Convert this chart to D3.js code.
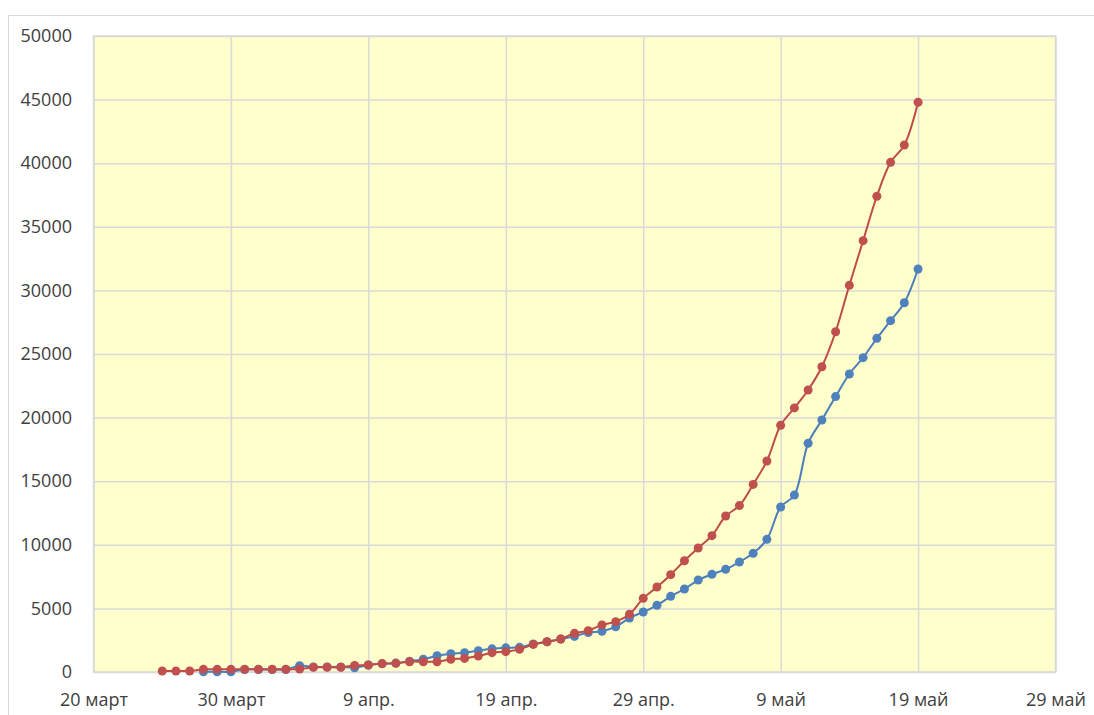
<!DOCTYPE html>
<html><head><meta charset="utf-8">
<script src="https://cdn.jsdelivr.net/npm/d3@7"></script>
<style>
html,body{margin:0;padding:0;background:#fff;}
svg{display:block;font-family:"Open Sans",sans-serif;}
</style></head>
<body><svg id="c" width="1094" height="715"></svg>
<script>
const startDate = "2020-03-25";
const seriesRed = [80,80,80,210,210,210,210,210,210,210,240,370,370,370,520,550,660,680,810,810,810,1000,1070,1250,1520,1600,1780,2170,2380,2590,3040,3250,3700,3960,4540,5790,6680,7650,8750,9750,10720,12260,13080,14750,16590,19390,20760,22170,24000,26750,30400,33910,37400,40070,41430,44790];
const seriesBlue = [null,null,null,20,20,20,200,200,200,200,500,400,400,400,330,550,650,700,850,1000,1280,1440,1520,1680,1820,1900,1940,2200,2380,2590,2800,3100,3200,3560,4245,4720,5240,5950,6525,7230,7680,8070,8650,9330,10430,12970,13915,17980,19810,21650,23430,24710,26230,27620,29030,31680];
const xTickDates = ["2020-03-20","2020-03-30","2020-04-09","2020-04-19","2020-04-29","2020-05-09","2020-05-19","2020-05-29"];
const xTickLabels = ["20 март","30 март","9 апр.","19 апр.","29 апр.","9 май","19 май","29 май"];
const yTicks = [0,5000,10000,15000,20000,25000,30000,35000,40000,45000,50000];

const svg = d3.select("#c");
const L = 93.5, R = 1055.5, T = 36, B = 672;
const parse = d3.utcParse("%Y-%m-%d");
const d0 = parse(startDate);
const dateOf = i => d3.utcDay.offset(d0, i);

const x = d3.scaleUtc().domain([parse(xTickDates[0]), parse(xTickDates[xTickDates.length-1])]).range([L, R]);
const y = d3.scaleLinear().domain([0, 50000]).range([B, T]);

// outer chart border
svg.append("rect").attr("x",8.5).attr("y",15.5).attr("width",1200).attr("height",800)
  .attr("fill","#fff").attr("stroke","#d9d9d9").attr("stroke-width",1);

// plot area
svg.append("rect").attr("x",L).attr("y",T).attr("width",R-L).attr("height",B-T)
  .attr("fill","#ffffcc").attr("stroke","#d9d9d9").attr("stroke-width",1.5);

// gridlines via axes
const gy = svg.append("g").attr("transform",`translate(${L},0)`)
  .call(d3.axisLeft(y).tickValues(yTicks).tickSize(-(R-L)).tickFormat(""));
gy.select(".domain").remove();
gy.selectAll("line").attr("stroke","#d9d9d9").attr("stroke-width",1.5);

const gx = svg.append("g").attr("transform",`translate(0,${B})`)
  .call(d3.axisBottom(x).tickValues(xTickDates.map(parse)).tickSize(-(B-T)).tickFormat(""));
gx.select(".domain").remove();
gx.selectAll("line").attr("stroke","#d9d9d9").attr("stroke-width",1.5);

// axis labels
const yl = svg.append("g").attr("transform",`translate(72,0)`)
  .call(d3.axisLeft(y).tickValues(yTicks).tickSize(0).tickPadding(0).tickFormat(d3.format("d")));
yl.select(".domain").remove();
yl.selectAll("text").attr("font-size",18).attr("fill","#404040").attr("font-family","Open Sans").attr("dy","0.32em");

const xl = svg.append("g").attr("transform",`translate(0,${B})`)
  .call(d3.axisBottom(x).tickValues(xTickDates.map(parse)).tickSize(0).tickPadding(0)
    .tickFormat((d,i)=>xTickLabels[i]));
xl.select(".domain").remove();
xl.selectAll("text").attr("font-size",18).attr("fill","#404040").attr("font-family","Open Sans")
  .attr("y",34).attr("dy",0);

function draw(vals, lineColor, markColor){
  const data = vals.map((v,i)=>({d:dateOf(i), v})).filter(p=>p.v!=null);
  const line = d3.line().x(p=>x(p.d)).y(p=>y(p.v)).curve(d3.curveCatmullRom.alpha(0.5));
  svg.append("path").datum(data).attr("d",line).attr("fill","none")
    .attr("stroke",lineColor).attr("stroke-width",2).attr("stroke-linejoin","round");
  svg.append("g").selectAll("circle").data(data).join("circle")
    .attr("cx",p=>x(p.d)).attr("cy",p=>y(p.v)).attr("r",4.5).attr("fill",markColor);
}
draw(seriesBlue, "#4a7ebb", "#4f81bd");
draw(seriesRed, "#be4b48", "#c0504d");
</script></body></html>
